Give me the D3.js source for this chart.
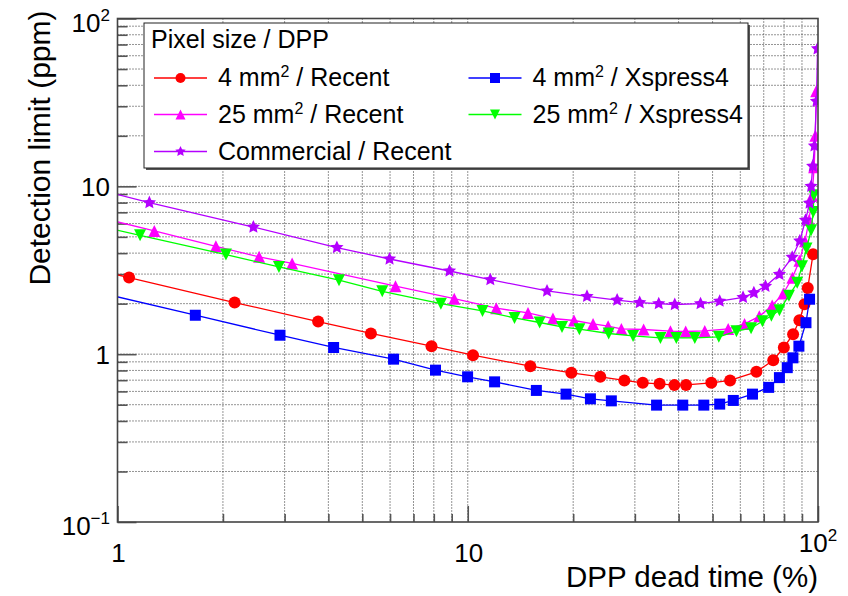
<!DOCTYPE html>
<html>
<head>
<meta charset="utf-8">
<script src="https://cdn.jsdelivr.net/npm/d3@7"></script>
<style>
  body { margin: 0; background: #fff; }
  text { font-family: "Liberation Sans", Arial, Helvetica, sans-serif; fill: #000; }
</style>
</head>
<body>
<div id="chart"></div>
<script>
// Detection limit vs DPP dead time
// (first point of every series sits left of x = 1 and is clipped, it only carries the line to the frame)

// 4 mm2 / Recent
const recent4X = [0.75, 1.079, 2.16, 3.74, 5.29, 7.88, 10.35, 15.09, 19.76, 23.9, 28.0, 31.6, 35.3, 38.9, 42.0, 49.6, 56.1, 66.7, 74.5, 79.9, 84.9, 88.5, 91.5, 93.5, 96.8];
const recent4Y = [3.42, 2.86, 2.03, 1.565, 1.328, 1.116, 0.986, 0.848, 0.774, 0.733, 0.697, 0.675, 0.666, 0.654, 0.656, 0.675, 0.697, 0.785, 0.921, 1.096, 1.315, 1.594, 1.985, 2.48, 3.94];

// 4 mm2 / Xspress4
const xsp4X = [0.75, 1.668, 2.91, 4.14, 6.14, 8.09, 9.99, 11.93, 15.7, 19.08, 22.4, 25.7, 34.6, 41.1, 47.2, 52.4, 57.3, 65.0, 72.3, 77.6, 81.7, 84.8, 88.2, 92.4, 94.6];
const xsp4Y = [2.53, 1.707, 1.297, 1.096, 0.934, 0.803, 0.733, 0.684, 0.608, 0.578, 0.542, 0.527, 0.497, 0.497, 0.497, 0.504, 0.530, 0.578, 0.634, 0.725, 0.831, 0.951, 1.116, 1.54, 2.125];

// 25 mm2 / Recent
const recent25X = [0.75, 1.274, 1.909, 2.537, 3.152, 6.22, 9.15, 12.06, 14.86, 17.51, 20.11, 22.79, 25.16, 27.46, 31.78, 37.9, 41.9, 47.5, 55.4, 61.7, 68.0, 74.0, 79.6, 84.5, 88.5, 91.8, 94.3, 96.2, 97.5, 98.3, 98.8];
const recent25Y = [7.13, 5.42, 4.39, 3.80, 3.47, 2.54, 2.14, 1.878, 1.762, 1.631, 1.587, 1.515, 1.468, 1.414, 1.403, 1.370, 1.365, 1.376, 1.414, 1.515, 1.68, 1.95, 2.3, 2.85, 3.6, 4.7, 6.3, 8.8, 13, 20, 36.9];

// 25 mm2 / Xspress4
const xsp25X = [0.75, 1.16, 2.04, 2.89, 4.29, 5.70, 8.38, 11.02, 13.6, 16.04, 18.58, 20.83, 25.26, 29.65, 35.5, 39.4, 44.5, 52.1, 58.5, 64.4, 69.4, 73.6, 77.6, 82.6, 87.2, 90.0, 92.7, 95.6, 96.9, 97.3];
const xsp25Y = [6.26, 5.11, 3.92, 3.31, 2.76, 2.37, 2.00, 1.81, 1.645, 1.544, 1.454, 1.409, 1.328, 1.285, 1.250, 1.250, 1.250, 1.268, 1.370, 1.428, 1.572, 1.695, 1.828, 2.23, 2.66, 3.34, 4.26, 5.47, 7.03, 8.84];

// Commercial / Recent
const commX = [0.75, 1.233, 2.443, 4.23, 5.98, 8.87, 11.6, 16.84, 21.9, 26.7, 30.97, 35.1, 39.0, 46.2, 52.4, 61.1, 65.6, 70.8, 77.6, 84.4, 88.7, 92.1, 94.6, 95.6, 96.6, 97.7, 99.0, 99.7];
const commY = [10.4, 8.0, 5.72, 4.32, 3.69, 3.13, 2.78, 2.38, 2.21, 2.10, 2.03, 2.00, 1.976, 2.00, 2.07, 2.18, 2.32, 2.54, 2.99, 3.78, 4.73, 6.28, 7.95, 10.0, 13.2, 17.4, 32.1, 66.0];

// tick labels: base and exponent
const xTicks = [1, 10, 100];
const xTickBase = ["1", "10", "10"];
const xTickExp = ["", "", "2"];
const yTicks = [0.1, 1, 10, 100];
const yTickBase = ["10", "1", "10", "10"];
const yTickExp = ["\u22121", "", "", "2"];

const legendHeader = "Pixel size / DPP";
// [before superscript, superscript, after]
const legendLabels = [
    ["4 mm", "2", " / Recent"],
    ["4 mm", "2", " / Xspress4"],
    ["25 mm", "2", " / Recent"],
    ["25 mm", "2", " / Xspress4"],
    ["Commercial / Recent", "", ""]
];

const series = [
    {xs: recent4X,  ys: recent4Y,  color: "#ff0000", shape: "circle"},
    {xs: xsp4X,     ys: xsp4Y,     color: "#0000ff", shape: "square"},
    {xs: recent25X, ys: recent25Y, color: "#ff00ff", shape: "triup"},
    {xs: xsp25X,    ys: xsp25Y,    color: "#00ff00", shape: "tridown"},
    {xs: commX,     ys: commY,     color: "#b400ff", shape: "star"}
];

const W = 848, H = 596;
const frame = {left: 117.5, right: 818, top: 18.5, bottom: 522};

const svg = d3.select("#chart")
    .append("svg")
    .attr("width", W)
    .attr("height", H);

const x = d3.scaleLog().domain([1, 100]).range([frame.left, frame.right]);
const y = d3.scaleLog().domain([0.1, 100]).range([frame.bottom, frame.top]);

// dotted grid at every major and minor tick
const grid = svg.append("g")
    .attr("stroke", "#2a2a2a")
    .attr("stroke-width", 1)
    .attr("stroke-dasharray", "1,2");
grid.selectAll(".gx")
    .data(x.ticks().filter(d => d > 1 && d < 100))
    .join("line")
    .attr("x1", d => x(d)).attr("x2", d => x(d))
    .attr("y1", frame.top).attr("y2", frame.bottom);
grid.selectAll(".gy")
    .data(y.ticks().filter(d => d > 0.1 && d < 100))
    .join("line")
    .attr("x1", frame.left).attr("x2", frame.right)
    .attr("y1", d => y(d)).attr("y2", d => y(d));

// tick marks pointing into the frame
function tickAxis(axis, transform, len, values) {
    const g = svg.append("g")
        .attr("transform", transform)
        .call(axis.tickValues(values).tickSizeInner(-len).tickSizeOuter(0).tickFormat(""));
    g.select(".domain").remove();
    g.selectAll("line").attr("stroke", "#555").attr("stroke-width", 1.6);
}
const xMinor = x.ticks().filter(d => !xTicks.includes(d));
const yMinor = y.ticks().filter(d => !yTicks.includes(d));
tickAxis(d3.axisBottom(x), `translate(0,${frame.bottom})`, 8, xMinor);
tickAxis(d3.axisBottom(x), `translate(0,${frame.bottom})`, 16, xTicks);
tickAxis(d3.axisLeft(y), `translate(${frame.left},0)`, 10, yMinor);
tickAxis(d3.axisLeft(y), `translate(${frame.left},0)`, 19, yTicks);

// curves
svg.append("clipPath").attr("id", "clip")
    .append("rect")
    .attr("x", frame.left).attr("y", frame.top)
    .attr("width", frame.right - frame.left).attr("height", frame.bottom - frame.top);

function markerPath(shape, s) {
    if (shape === "circle") return d3.symbol(d3.symbolCircle, Math.PI * s * s / 4)();
    if (shape === "square") return `M${-s / 2},${-s / 2}h${s}v${s}h${-s}Z`;
    if (shape === "triup") return `M0,${-s / 2}L${s / 2},${s / 2}L${-s / 2},${s / 2}Z`;
    if (shape === "tridown") return `M0,${s / 2}L${s / 2},${-s / 2}L${-s / 2},${-s / 2}Z`;
    // five point star
    const pts = [];
    for (let i = 0; i < 10; i++) {
        const r = i % 2 === 0 ? s / 2 : s * 0.24;
        const a = -Math.PI / 2 + i * Math.PI / 5;
        pts.push([r * Math.cos(a), r * Math.sin(a)]);
    }
    return "M" + pts.map(p => p.join(",")).join("L") + "Z";
}
const markerSize = {circle: 12, square: 11, triup: 12, tridown: 12, star: 14};

const plot = svg.append("g").attr("clip-path", "url(#clip)");
const line = d3.line().x(d => x(d[0])).y(d => y(d[1]));
series.forEach(s => {
    const pts = d3.zip(s.xs, s.ys);
    plot.append("path")
        .datum(pts)
        .attr("d", line)
        .attr("fill", "none")
        .attr("stroke", s.color)
        .attr("stroke-width", 1.3);
    plot.append("g").selectAll("path")
        .data(pts)
        .join("path")
        .attr("transform", d => `translate(${x(d[0])},${y(d[1])})`)
        .attr("d", markerPath(s.shape, markerSize[s.shape]))
        .attr("fill", s.color);
});

// frame
svg.append("rect")
    .attr("x", frame.left).attr("y", frame.top)
    .attr("width", frame.right - frame.left).attr("height", frame.bottom - frame.top)
    .attr("fill", "none").attr("stroke", "#444").attr("stroke-width", 1.6);

// tick labels
function powerLabel(g, base, exp, supSize, supRise) {
    g.append("tspan").text(base);
    if (exp) g.append("tspan").attr("font-size", supSize).attr("dy", -supRise).text(exp);
}
xTicks.forEach((v, i) => {
    const t = svg.append("text")
        .attr("x", x(v) + (xTickExp[i] ? 0 : 1))
        .attr("y", xTickExp[i] ? 552 : 562)
        .attr("text-anchor", "middle")
        .attr("font-size", 26);
    powerLabel(t, xTickBase[i], xTickExp[i], 17, 11);
});
yTicks.forEach((v, i) => {
    const t = svg.append("text")
        .attr("x", 110)
        .attr("y", y(v) + (yTickExp[i] ? 13 : 10))
        .attr("text-anchor", "end")
        .attr("font-size", 26);
    powerLabel(t, yTickBase[i], yTickExp[i], 17, 11);
});

// axis titles
svg.append("text")
    .attr("x", frame.right)
    .attr("y", 587)
    .attr("text-anchor", "end")
    .attr("font-size", 29.5)
    .text("DPP dead time (%)");
svg.append("text")
    .attr("transform", `translate(50,${frame.top - 8}) rotate(-90)`)
    .attr("text-anchor", "end")
    .attr("font-size", 30)
    .text("Detection limit (ppm)");

// legend
const leg = {x: 144, y: 23, w: 604, h: 145};
svg.append("rect")
    .attr("x", leg.x + 2).attr("y", leg.y + 2)
    .attr("width", leg.w).attr("height", leg.h)
    .attr("fill", "#555");
svg.append("rect")
    .attr("x", leg.x).attr("y", leg.y)
    .attr("width", leg.w).attr("height", leg.h)
    .attr("fill", "#fff").attr("stroke", "#222").attr("stroke-width", 1);
svg.append("text")
    .attr("x", 151).attr("y", 48)
    .attr("font-size", 25)
    .text(legendHeader);

const colX = [154, 468.5];
const rowY = [78, 114.5, 151.5];
legendLabels.forEach((lab, i) => {
    const col = i % 2, row = Math.floor(i / 2);
    const s = series[i];
    const lx = colX[col], ly = rowY[row];
    svg.append("line")
        .attr("x1", lx).attr("x2", lx + 53)
        .attr("y1", ly).attr("y2", ly)
        .attr("stroke", s.color).attr("stroke-width", 1.3);
    svg.append("path")
        .attr("transform", `translate(${lx + 26.5},${ly})`)
        .attr("d", markerPath(s.shape, s.shape === "star" ? 11 : 10))
        .attr("fill", s.color);
    const t = svg.append("text")
        .attr("x", lx + 64).attr("y", ly + 8)
        .attr("font-size", 25);
    t.append("tspan").text(lab[0]);
    if (lab[1]) {
        t.append("tspan").attr("font-size", 16).attr("dy", -9).text(lab[1]);
        t.append("tspan").attr("dy", 9).text(lab[2]);
    }
});
</script>
</body>
</html>
